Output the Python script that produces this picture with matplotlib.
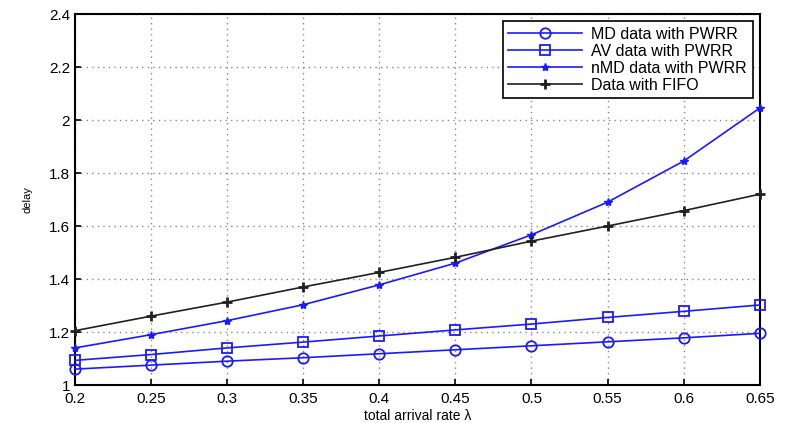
import numpy as np
import matplotlib.pyplot as plt

plt.rcParams['font.family'] = ['Liberation Sans', 'DejaVu Sans']

rate = [0.2, 0.25, 0.3, 0.35, 0.4, 0.45, 0.5, 0.55, 0.6, 0.65]
md_pwrr = [1.06, 1.075, 1.09, 1.103, 1.118, 1.133, 1.148, 1.163, 1.178, 1.195]
av_pwrr = [1.093, 1.115, 1.14, 1.162, 1.185, 1.208, 1.23, 1.255, 1.278, 1.302]
nmd_pwrr = [1.14, 1.19, 1.243, 1.303, 1.378, 1.46, 1.567, 1.69, 1.845, 2.045]
fifo = [1.205, 1.26, 1.313, 1.37, 1.425, 1.482, 1.543, 1.6, 1.658, 1.72]

fig = plt.figure(figsize=(7.93, 4.23), dpi=100)
ax = fig.add_axes([0.0946, 0.0898, 0.8634, 0.877])

blue = '#1a1aff'
ax.plot(rate, md_pwrr, '-o', color=blue, mfc='none', ms=7.5, mew=1.3, lw=1.2,
        clip_on=False, zorder=3, label='MD data with PWRR')
ax.plot(rate, av_pwrr, '-s', color=blue, mfc='none', ms=7.5, mew=1.3, lw=1.2,
        clip_on=False, zorder=3, label='AV data with PWRR')
ax.plot(rate, nmd_pwrr, '-*', color=blue, ms=6, lw=1.2,
        clip_on=False, zorder=3, label='nMD data with PWRR')
ax.plot(rate, fifo, '-+', color='#202020', ms=7, mew=2, lw=1.2,
        clip_on=False, zorder=3, label='Data with FIFO')

ax.set_xlim(0.2, 0.65)
ax.set_ylim(1, 2.4)
ax.set_xticks(rate)
ax.set_xticklabels(['0.2', '0.25', '0.3', '0.35', '0.4', '0.45', '0.5', '0.55', '0.6', '0.65'])
ax.set_yticks([1, 1.2, 1.4, 1.6, 1.8, 2, 2.2, 2.4])
ax.set_yticklabels(['1', '1.2', '1.4', '1.6', '1.8', '2', '2.2', '2.4'])
ax.tick_params(direction='in', labelsize=11, length=4, width=1.2)
ax.tick_params(axis='x', pad=5)
ax.grid(True, linestyle=(0, (1, 3)), color='#888888', lw=1)
for s in ax.spines.values():
    s.set_linewidth(1.5)

ax.set_xlabel('total arrival rate λ', fontsize=10, labelpad=2)
ax.set_ylabel('delay', fontsize=8, labelpad=12)

leg = ax.legend(loc='upper right', fontsize=11.5, fancybox=False, edgecolor='black',
                borderaxespad=0.45, handlelength=4.6, labelspacing=0.12, borderpad=0.35,
                handletextpad=0.6, framealpha=1)
leg.get_frame().set_linewidth(1.2)

plt.savefig('out.png', dpi=100)
